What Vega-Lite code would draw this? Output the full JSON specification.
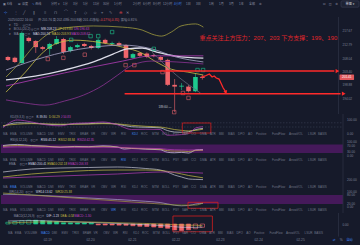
{
"$schema":"https://vega.github.io/schema/vega-lite/v6.json",
"background":"#161a2a",
"padding":0,
"spacing":0,
"bounds":"flush",
"config":{
 "view":{"stroke":null},
 "text":{"font":"Liberation Sans, DejaVu Sans, Noto Sans CJK SC, sans-serif","fontSize":3,"baseline":"middle","align":"left"}
},
"datasets":{
 "candles":[
  {"i":0,"o":208.6,"c":207.6,"h":209.0,"l":207.2},
  {"i":1,"o":208.3,"c":206.9,"h":208.7,"l":206.5},
  {"i":2,"o":206.5,"c":216.9,"h":217.4,"l":206.3},
  {"i":3,"o":215.2,"c":214.1,"h":215.6,"l":213.6},
  {"i":4,"o":214.1,"c":212.0,"h":214.4,"l":210.0},
  {"i":5,"o":212.0,"c":211.4,"h":212.4,"l":210.8},
  {"i":6,"o":211.4,"c":213.1,"h":213.5,"l":209.3},
  {"i":7,"o":213.1,"c":214.8,"h":215.8,"l":212.8},
  {"i":8,"o":214.8,"c":210.3,"h":215.2,"l":209.6},
  {"i":9,"o":210.7,"c":212.0,"h":212.4,"l":210.2},
  {"i":10,"o":212.0,"c":212.7,"h":213.2,"l":211.6},
  {"i":11,"o":213.1,"c":212.4,"h":213.5,"l":212.0},
  {"i":12,"o":212.4,"c":211.7,"h":212.8,"l":211.2},
  {"i":13,"o":211.7,"c":214.5,"h":215.0,"l":211.3},
  {"i":14,"o":214.5,"c":213.4,"h":214.9,"l":213.0},
  {"i":15,"o":213.1,"c":213.4,"h":213.9,"l":212.8},
  {"i":16,"o":213.4,"c":212.7,"h":213.9,"l":212.3},
  {"i":17,"o":212.7,"c":208.3,"h":213.0,"l":207.9},
  {"i":18,"o":208.3,"c":209.6,"h":210.0,"l":208.0},
  {"i":19,"o":210.0,"c":209.0,"h":210.3,"l":208.6},
  {"i":20,"o":209.8,"c":208.6,"h":210.2,"l":208.2},
  {"i":21,"o":209.3,"c":208.9,"h":209.7,"l":208.5},
  {"i":22,"o":208.6,"c":207.6,"h":208.9,"l":207.1},
  {"i":23,"o":207.6,"c":199.0,"h":208.0,"l":198.6},
  {"i":24,"o":199.0,"c":198.4,"h":201.0,"l":189.6},
  {"i":25,"o":198.4,"c":198.7,"h":199.6,"l":197.2},
  {"i":26,"o":198.4,"c":196.8,"h":198.9,"l":196.4},
  {"i":27,"o":196.8,"c":201.7,"h":203.0,"l":196.5},
  {"i":28,"o":201.76,"c":201.41,"h":202.43,"l":200.8}
 ],
 "ml":[
  {"s":"A","i":-0.28,"p":201.7},{"s":"A","i":1.82,"p":206.9},{"s":"A","i":3.92,"p":212.8},{"s":"A","i":6.02,"p":216.9},{"s":"A","i":8.12,"p":218.6},{"s":"A","i":12.32,"p":219.3},{"s":"A","i":16.52,"p":218.9},{"s":"A","i":19.32,"p":217.9},{"s":"A","i":20.72,"p":216.5},{"s":"A","i":22.12,"p":215.8},{"s":"A","i":23.52,"p":217.2},{"s":"A","i":24.92,"p":219.3},{"s":"A","i":27.02,"p":220.0},{"s":"A","i":28.14,"p":218.9},
  {"s":"B","i":-0.28,"p":196.5},{"s":"B","i":2.52,"p":203.4},{"s":"B","i":4.62,"p":209.2},{"s":"B","i":6.72,"p":213.0},{"s":"B","i":9.52,"p":214.4},{"s":"B","i":13.02,"p":213.7},{"s":"B","i":16.52,"p":212.0},{"s":"B","i":19.32,"p":209.9},{"s":"B","i":21.14,"p":207.2},{"s":"B","i":23.52,"p":204.4},{"s":"B","i":25.9,"p":203.4},{"s":"B","i":28.14,"p":202.4},
  {"s":"C","i":-0.28,"p":200.7},{"s":"C","i":3.92,"p":202.0},{"s":"C","i":8.12,"p":204.1},{"s":"C","i":12.32,"p":206.9},{"s":"C","i":15.12,"p":209.6},{"s":"C","i":17.22,"p":211.4},{"s":"C","i":19.32,"p":211.7},{"s":"C","i":21.42,"p":210.3},{"s":"C","i":24.22,"p":208.9},{"s":"C","i":28.14,"p":208.2},
  {"s":"D","i":-0.28,"p":204.1},{"s":"D","i":2.52,"p":206.5},{"s":"D","i":5.32,"p":208.6},{"s":"D","i":8.12,"p":210.3},{"s":"D","i":12.32,"p":212.0},{"s":"D","i":16.52,"p":212.7},{"s":"D","i":20.72,"p":211.4},{"s":"D","i":24.22,"p":208.6},{"s":"D","i":28.14,"p":206.9},
  {"s":"E","i":-0.28,"p":198.6},{"s":"E","i":8.12,"p":203.1},{"s":"E","i":16.52,"p":207.2},{"s":"E","i":20.72,"p":209.0},{"s":"E","i":28.14,"p":209.0},
  {"s":"F","i":-0.28,"p":193.8},{"s":"F","i":2.52,"p":192.7},{"s":"F","i":5.32,"p":192.0},{"s":"F","i":8.12,"p":193.4},{"s":"F","i":10.92,"p":195.5},{"s":"F","i":13.72,"p":198.9},{"s":"F","i":15.82,"p":202.4},{"s":"F","i":17.92,"p":205.8},{"s":"F","i":20.72,"p":207.2},{"s":"F","i":24.22,"p":206.9},{"s":"F","i":28.14,"p":206.2},
  {"s":"G","i":20.72,"p":210.3},{"s":"G","i":24.22,"p":202.4},{"s":"G","i":27.72,"p":196.2}
 ],
 "mk":[
  {"i":9.1,"p":214.5,"u":1},{"i":11.9,"p":215.8,"u":1},{"i":13.0,"p":215.8,"u":1},{"i":15.0,"p":217.2,"u":1},{"i":21.0,"p":211.4,"u":1},{"i":27.3,"p":204.1,"u":1},{"i":28.1,"p":204.1,"u":1},
  {"i":5.74,"p":207.9,"u":0},{"i":7.98,"p":208.3,"u":0},{"i":11.06,"p":209.4,"u":0},{"i":16.94,"p":205.8,"u":0},{"i":18.2,"p":205.8,"u":0},{"i":22.26,"p":203.4,"u":0},{"i":25.2,"p":196.2,"u":0},{"i":26.0,"p":194.5,"u":0},{"i":23.94,"p":189.6,"u":0}
 ],
 "mh":[
  {"row":1,"i":0,"t":"2025/02/22 16:00","k":"lab"},{"row":1,"i":4.34,"t":"开:201.76","k":"lab"},{"row":1,"i":6.44,"t":"高:202.43","k":"lab"},{"row":1,"i":8.4,"t":"低:200.80","k":"lab"},{"row":1,"i":10.22,"t":"收:201.41","k":"lab"},{"row":1,"i":12.18,"t":"涨幅:","k":"lab"},{"row":1,"i":13.2,"t":"-0.17%(-0.35)","k":"down"},{"row":1,"i":16.24,"t":"振幅:0.81%","k":"lab"},
  {"row":2,"i":0.14,"t":"▾","k":"lab"},{"row":2,"i":0.84,"t":"TD","k":"lab"},{"row":2,"i":2.1,"t":"◎▢✕","k":"lab"},
  {"row":3,"i":0.14,"t":"▾","k":"lab"},{"row":3,"i":0.84,"t":"BOLL(20,2)","k":"lab"},{"row":3,"i":3.3,"t":"◎▢✕","k":"lab"},{"row":3,"i":4.76,"t":"MB:208.23","k":"s1"},{"row":3,"i":7.14,"t":"UP:219.83","k":"s2"},{"row":3,"i":9.52,"t":"DN:196.63","k":"s3"},
  {"row":4,"i":0.14,"t":"▾","k":"lab"},{"row":4,"i":0.84,"t":"MA","k":"lab"},{"row":4,"i":2.0,"t":"◎▢✕","k":"lab"},{"row":4,"i":3.6,"t":"MA5:200.74","k":"s1"},{"row":4,"i":6.3,"t":"MA10:203.93","k":"s2"},{"row":4,"i":9.1,"t":"MA30:208.62","k":"s3"}
 ],
 "hdr":[
  {"pn":2,"i":1.0,"t":"KDJ(9,3,3)","k":"lab"},{"pn":2,"i":3.2,"t":"◎▢✕","k":"lab"},{"pn":2,"i":4.7,"t":"K:39.80","k":"s1"},{"pn":2,"i":6.45,"t":"D:34.29","k":"s2"},{"pn":2,"i":8.1,"t":"J:50.83","k":"s3"},
  {"pn":3,"i":1.0,"t":"RSI(6,12,24)","k":"lab"},{"pn":3,"i":3.8,"t":"◎▢✕","k":"lab"},{"pn":3,"i":5.3,"t":"RSI6:45.12","k":"s1"},{"pn":3,"i":7.75,"t":"RSI12:38.84","k":"s2"},{"pn":3,"i":10.4,"t":"RSI24:42.35","k":"s3"},
  {"pn":4,"i":0.84,"t":"EMA","k":"lab"},{"pn":4,"i":2.3,"t":"◎▢✕","k":"lab"},{"pn":4,"i":3.55,"t":"EMA5:200.41","k":"s1"},{"pn":4,"i":6.2,"t":"EMA10:202.18","k":"s2"},{"pn":4,"i":9.1,"t":"EMA20:206.93","k":"s3"},
  {"pn":5,"i":0.84,"t":"WR(14,20)","k":"lab"},{"pn":5,"i":3.1,"t":"◎▢✕","k":"lab"},{"pn":5,"i":4.6,"t":"WR14:13.62","k":"s1"},{"pn":5,"i":7.3,"t":"WR20:25.38","k":"s2"},
  {"pn":6,"i":0.84,"t":"MACD(12,26,9)","k":"lab"},{"pn":6,"i":4.1,"t":"◎▢✕","k":"lab"},{"pn":6,"i":5.55,"t":"DIF:-1.23","k":"s1"},{"pn":6,"i":7.55,"t":"DEA:-0.58","k":"s2"},{"pn":6,"i":9.6,"t":"MACD:-1.30","k":"s3"}
 ],
 "tools":[
  {"t":"MA","i":0},{"t":"EMA","i":0.98},{"t":"VOLUME","i":2.38},{"t":"MACD","i":4.76},{"t":"DMI","i":6.3},{"t":"EMV","i":7.7},{"t":"TRIX","i":9.24},{"t":"BRAR","i":10.78},{"t":"VR","i":12.32},{"t":"OBV","i":13.72},{"t":"WR","i":15.12},{"t":"RSI","i":16.52},{"t":"KDJ","i":18.06},{"t":"ROC","i":19.32},{"t":"MTM","i":20.86},{"t":"BOLL","i":22.26},{"t":"PSY","i":23.8},{"t":"SAR","i":25.06},{"t":"CCI","i":26.32},{"t":"DMA","i":27.58},{"t":"ATR","i":28.98},{"t":"BBI","i":30.24},{"t":"BIAS","i":31.5},{"t":"DPO","i":32.9},{"t":"AO","i":34.3},{"t":"Positive","i":35.42},{"t":"FundFlow","i":37.66},{"t":"ArrowVOL","i":40.04},{"t":"LSUR","i":42.7},{"t":"BASIS","i":44.1}
 ],
 "top":[
  {"r":1,"i":0.0,"t":"▣","k":"lab"},{"r":1,"i":0.56,"t":"K线","k":"lab"},{"r":1,"i":2.1,"t":"⊞","k":"lab"},{"r":1,"i":2.66,"t":"深度","k":"lab"},{"r":1,"i":4.06,"t":"✎","k":"sel"},{"r":1,"i":4.5,"t":"画线","k":"lab"},
  {"r":1,"i":6.72,"t":"分时","k":"lab"},{"r":1,"i":7.7,"t":"▾","k":"lab"},{"r":1,"i":8.4,"t":"1分","k":"lab"},{"r":1,"i":9.8,"t":"3分","k":"lab"},{"r":1,"i":11.2,"t":"5分","k":"lab"},{"r":1,"i":12.6,"t":"15分","k":"lab"},{"r":1,"i":14.0,"t":"30分","k":"lab"},{"r":1,"i":15.54,"t":"1小时","k":"lab"},{"r":1,"i":18.2,"t":"2小时","k":"lab"},{"r":1,"i":19.6,"t":"6小时","k":"lab"},{"r":1,"i":21.0,"t":"8小时","k":"lab"},{"r":1,"i":22.4,"t":"12小时","k":"lab"},{"r":1,"i":23.94,"t":"4小时","k":"sel"},{"r":1,"i":25.62,"t":"1日","k":"lab"},{"r":1,"i":27.02,"t":"3日","k":"lab"},{"r":1,"i":28.84,"t":"1周","k":"lab"},{"r":1,"i":30.24,"t":"1月","k":"lab"},{"r":1,"i":31.64,"t":"3月","k":"lab"},{"r":1,"i":33.04,"t":"1年","k":"lab"},{"r":1,"i":34.44,"t":"全部","k":"lab"},{"r":1,"i":35.84,"t":"⚙","k":"lab"},
  {"r":1,"i":44.8,"t":"⊡","k":"lab"},{"r":1,"i":45.6,"t":"◫","k":"lab"},{"r":1,"i":46.5,"t":"⚙","k":"lab"},
  {"r":2,"i":0.14,"t":"⊹","k":"sel"},{"r":2,"i":1.54,"t":"⋮","k":"lab"},{"r":2,"i":2.8,"t":"╱","k":"lab"},{"r":2,"i":4.2,"t":"∥","k":"lab"},{"r":2,"i":5.74,"t":"≡","k":"lab"},{"r":2,"i":7.14,"t":"⊓","k":"lab"},{"r":2,"i":8.54,"t":"⌒","k":"lab"},{"r":2,"i":9.94,"t":"T","k":"lab"},{"r":2,"i":11.34,"t":"◇","k":"lab"},{"r":2,"i":12.6,"t":"☺","k":"lab"},{"r":2,"i":13.72,"t":"⌖","k":"lab"},{"r":2,"i":14.84,"t":"✎","k":"lab"},{"r":2,"i":16.24,"t":"⊖","k":"down"},{"r":2,"i":17.22,"t":"✕","k":"lab"}
 ],
 "sub":[
  {"s":"k2","i":0,"v":55},{"s":"k2","i":2,"v":80},{"s":"k2","i":4,"v":78},{"s":"k2","i":6,"v":70},{"s":"k2","i":8,"v":66},{"s":"k2","i":10,"v":72},{"s":"k2","i":12,"v":74},{"s":"k2","i":14,"v":78},{"s":"k2","i":16,"v":70},{"s":"k2","i":18,"v":52},{"s":"k2","i":20,"v":48},{"s":"k2","i":22,"v":44},{"s":"k2","i":23,"v":25},{"s":"k2","i":24,"v":14},{"s":"k2","i":25,"v":12},{"s":"k2","i":26,"v":16},{"s":"k2","i":27,"v":32},{"s":"k2","i":28,"v":40},
  {"s":"d2","i":0,"v":60},{"s":"d2","i":2,"v":70},{"s":"d2","i":4,"v":74},{"s":"d2","i":6,"v":72},{"s":"d2","i":8,"v":70},{"s":"d2","i":10,"v":70},{"s":"d2","i":12,"v":71},{"s":"d2","i":14,"v":74},{"s":"d2","i":16,"v":72},{"s":"d2","i":18,"v":62},{"s":"d2","i":20,"v":55},{"s":"d2","i":22,"v":50},{"s":"d2","i":23,"v":42},{"s":"d2","i":24,"v":32},{"s":"d2","i":25,"v":26},{"s":"d2","i":26,"v":22},{"s":"d2","i":27,"v":26},{"s":"d2","i":28,"v":34},
  {"s":"j2","i":0,"v":45},{"s":"j2","i":2,"v":100},{"s":"j2","i":4,"v":86},{"s":"j2","i":6,"v":66},{"s":"j2","i":8,"v":58},{"s":"j2","i":10,"v":76},{"s":"j2","i":12,"v":80},{"s":"j2","i":14,"v":86},{"s":"j2","i":16,"v":66},{"s":"j2","i":18,"v":32},{"s":"j2","i":20,"v":34},{"s":"j2","i":22,"v":32},{"s":"j2","i":23,"v":-9},{"s":"j2","i":24,"v":-8},{"s":"j2","i":25,"v":-4},{"s":"j2","i":26,"v":4},{"s":"j2","i":27,"v":44},{"s":"j2","i":28,"v":52},
  {"s":"r6","i":0,"v":72},{"s":"r6","i":2,"v":80},{"s":"r6","i":4,"v":72},{"s":"r6","i":6,"v":68},{"s":"r6","i":8,"v":60},{"s":"r6","i":10,"v":66},{"s":"r6","i":12,"v":64},{"s":"r6","i":14,"v":70},{"s":"r6","i":16,"v":62},{"s":"r6","i":17,"v":48},{"s":"r6","i":18,"v":52},{"s":"r6","i":20,"v":47},{"s":"r6","i":22,"v":43},{"s":"r6","i":23,"v":26},{"s":"r6","i":24,"v":22},{"s":"r6","i":25,"v":25},{"s":"r6","i":26,"v":20},{"s":"r6","i":27,"v":42},{"s":"r6","i":28,"v":45},
  {"s":"r12","i":0,"v":66},{"s":"r12","i":2,"v":72},{"s":"r12","i":4,"v":69},{"s":"r12","i":6,"v":66},{"s":"r12","i":8,"v":62},{"s":"r12","i":10,"v":63},{"s":"r12","i":12,"v":62},{"s":"r12","i":14,"v":65},{"s":"r12","i":16,"v":61},{"s":"r12","i":18,"v":53},{"s":"r12","i":20,"v":50},{"s":"r12","i":22,"v":47},{"s":"r12","i":23,"v":37},{"s":"r12","i":24,"v":34},{"s":"r12","i":25,"v":34},{"s":"r12","i":26,"v":31},{"s":"r12","i":27,"v":38},{"s":"r12","i":28,"v":39},
  {"s":"r24","i":0,"v":60},{"s":"r24","i":2,"v":63},{"s":"r24","i":4,"v":62},{"s":"r24","i":6,"v":61},{"s":"r24","i":8,"v":60},{"s":"r24","i":10,"v":60},{"s":"r24","i":12,"v":60},{"s":"r24","i":14,"v":61},{"s":"r24","i":16,"v":59},{"s":"r24","i":18,"v":55},{"s":"r24","i":20,"v":53},{"s":"r24","i":22,"v":51},{"s":"r24","i":23,"v":46},{"s":"r24","i":24,"v":43},{"s":"r24","i":25,"v":42},{"s":"r24","i":26,"v":41},{"s":"r24","i":27,"v":42},{"s":"r24","i":28,"v":42},
  {"s":"e5","i":0,"v":208},{"s":"e5","i":4,"v":211},{"s":"e5","i":8,"v":212},{"s":"e5","i":12,"v":212.5},{"s":"e5","i":16,"v":213},{"s":"e5","i":20,"v":211.5},{"s":"e5","i":22,"v":210},{"s":"e5","i":23,"v":208},{"s":"e5","i":24,"v":205},{"s":"e5","i":25,"v":203},{"s":"e5","i":26,"v":201},{"s":"e5","i":27,"v":200.6},{"s":"e5","i":28,"v":200.4},
  {"s":"e10","i":0,"v":203},{"s":"e10","i":4,"v":206},{"s":"e10","i":8,"v":208},{"s":"e10","i":12,"v":209.5},{"s":"e10","i":16,"v":210},{"s":"e10","i":20,"v":210},{"s":"e10","i":22,"v":209.5},{"s":"e10","i":24,"v":207.5},{"s":"e10","i":26,"v":204.5},{"s":"e10","i":28,"v":202.2},
  {"s":"e20","i":0,"v":202},{"s":"e20","i":4,"v":203},{"s":"e20","i":8,"v":204},{"s":"e20","i":12,"v":205},{"s":"e20","i":16,"v":206},{"s":"e20","i":20,"v":207.5},{"s":"e20","i":22,"v":208},{"s":"e20","i":24,"v":208},{"s":"e20","i":26,"v":207.5},{"s":"e20","i":28,"v":206.9},
  {"s":"w1","i":0,"v":85},{"s":"w1","i":4,"v":80},{"s":"w1","i":8,"v":70},{"s":"w1","i":12,"v":60},{"s":"w1","i":16,"v":50},{"s":"w1","i":20,"v":38},{"s":"w1","i":22,"v":30},{"s":"w1","i":24,"v":12},{"s":"w1","i":25,"v":8},{"s":"w1","i":26,"v":10},{"s":"w1","i":27,"v":20},{"s":"w1","i":28,"v":25},
  {"s":"w2","i":0,"v":93},{"s":"w2","i":6,"v":73},{"s":"w2","i":14,"v":47},{"s":"w2","i":20,"v":27},{"s":"w2","i":25,"v":13},{"s":"w2","i":27,"v":13},{"s":"w2","i":28,"v":27},
  {"s":"dif","i":0,"v":1.2},{"s":"dif","i":4,"v":1.4},{"s":"dif","i":8,"v":1.0},{"s":"dif","i":12,"v":0.6},{"s":"dif","i":16,"v":0.2},{"s":"dif","i":20,"v":-0.3},{"s":"dif","i":23,"v":-0.8},{"s":"dif","i":25,"v":-1.3},{"s":"dif","i":27,"v":-1.35},{"s":"dif","i":28,"v":-1.23},
  {"s":"dea","i":0,"v":0.4},{"s":"dea","i":4,"v":0.8},{"s":"dea","i":8,"v":0.9},{"s":"dea","i":12,"v":0.8},{"s":"dea","i":16,"v":0.5},{"s":"dea","i":20,"v":0.2},{"s":"dea","i":23,"v":-0.1},{"s":"dea","i":25,"v":-0.4},{"s":"dea","i":27,"v":-0.52},{"s":"dea","i":28,"v":-0.58}
 ],
 "hist":[
  {"i":0,"v":0.7,"h":1},{"i":1,"v":1.0,"h":1},{"i":2,"v":1.3,"h":1},{"i":3,"v":1.5,"h":1},{"i":4,"v":1.5,"h":0},{"i":5,"v":1.3,"h":0},{"i":6,"v":1.1,"h":0},{"i":7,"v":0.9,"h":0},{"i":8,"v":0.5,"h":0},{"i":9,"v":0.45,"h":0},{"i":10,"v":0.4,"h":0},{"i":11,"v":0.4,"h":0},{"i":12,"v":0.35,"h":0},{"i":13,"v":-0.35,"h":0},{"i":14,"v":-0.4,"h":0},{"i":15,"v":-0.4,"h":0},{"i":16,"v":-0.45,"h":0},{"i":17,"v":-0.5,"h":0},{"i":18,"v":-0.7,"h":0},{"i":19,"v":-0.9,"h":0},{"i":20,"v":-1.0,"h":0},{"i":21,"v":-1.2,"h":0},{"i":22,"v":-1.4,"h":0},{"i":23,"v":-1.7,"h":0},{"i":24,"v":-2.4,"h":0},{"i":25,"v":-2.6,"h":0},{"i":26,"v":-2.3,"h":0},{"i":27,"v":-1.9,"h":1},{"i":28,"v":-1.3,"h":1}
 ],
 "dates":[
  {"i":5.74,"t":"02-19"},{"i":11.9,"t":"02-20"},{"i":17.92,"t":"02-21"},{"i":24.2,"t":"02-22"},{"i":30.6,"t":"02-23"},{"i":36.1,"t":"02-24"},{"i":42.14,"t":"02-25"}
 ]
},
"vconcat":[
 {"width":360,"height":17,
  "layer":[
   {"data":{"values":[{"r":1,"i":47.32,"i2":49.84}]},
    "mark":{"type":"rect","fill":"#1d2233","stroke":"#3a4058","strokeWidth":0.6,"cornerRadius":1},
    "encoding":{"x":{"field":"i","type":"quantitative","scale":{"domain":[-0.28,50.12],"nice":false,"zero":false},"axis":null},"x2":{"field":"i2"},
     "y":{"field":"r","type":"ordinal","scale":{"domain":[1,2],"paddingInner":0.3,"paddingOuter":0.1},"axis":null}}},
   {"data":{"values":[{"r":1,"i":48.58,"t":"单图 ▾"}]},
    "mark":{"type":"text","fontSize":3.2,"align":"center","fill":"#c9ccd8"},
    "encoding":{"x":{"field":"i","type":"quantitative","scale":{"domain":[-0.28,50.12],"nice":false,"zero":false},"axis":null},
     "y":{"field":"r","type":"ordinal","scale":{"domain":[1,2],"paddingInner":0.3,"paddingOuter":0.1},"axis":null},"text":{"field":"t"}}},
   {"data":{"name":"top"},"transform":[{"filter":"datum.r==1"}],
    "mark":{"type":"text","fontSize":3},
    "encoding":{"x":{"field":"i","type":"quantitative","scale":{"domain":[-0.28,50.12],"nice":false,"zero":false},"axis":null},
     "y":{"field":"r","type":"ordinal","scale":{"domain":[1,2],"paddingInner":0.3,"paddingOuter":0.1},"axis":null},"text":{"field":"t"},
     "fill":{"field":"k","type":"nominal","scale":{"domain":["lab","s1","s2","s3","down","sel","up"],"range":["#8a8fa3","#d4d6e2","#c9bf45","#c040c0","#e5484d","#3d84f0","#1dc98e"]},"legend":null}}},
   {"data":{"name":"top"},"transform":[{"filter":"datum.r==2"}],
    "mark":{"type":"text","fontSize":4},
    "encoding":{"x":{"field":"i","type":"quantitative","scale":{"domain":[-0.28,50.12],"nice":false,"zero":false},"axis":null},
     "y":{"field":"r","type":"ordinal","scale":{"domain":[1,2],"paddingInner":0.3,"paddingOuter":0.1},"axis":null},"text":{"field":"t"},
     "fill":{"field":"k","type":"nominal","scale":{"domain":["lab","s1","s2","s3","down","sel","up"],"range":["#8a8fa3","#d4d6e2","#c9bf45","#c040c0","#e5484d","#3d84f0","#1dc98e"]},"legend":null}}}
  ]},
 {"width":360,"height":97,
  "layer":[
   {"data":{"values":[{}]},"mark":{"type":"rule","color":"#2b3043","strokeWidth":0.8},
    "encoding":{"x":{"datum":47.6,"type":"quantitative","scale":{"domain":[-0.28,50.12],"nice":false,"zero":false},"axis":null},
     "y":{"datum":222.39,"type":"quantitative","scale":{"domain":[188.95,222.39],"nice":false,"zero":false},"axis":null},"y2":{"datum":188.95}}},
   {"data":{"values":[{"v":194.02},{"v":198.88},{"v":203.4},{"v":208.04},{"v":212.79},{"v":217.67}]},
    "mark":{"type":"text","fontSize":3.2,"fill":"#7d8296"},
    "encoding":{"x":{"datum":48.16,"type":"quantitative","scale":{"domain":[-0.28,50.12],"nice":false,"zero":false},"axis":null},
     "y":{"field":"v","type":"quantitative","scale":{"domain":[188.95,222.39],"nice":false,"zero":false},"axis":null},
     "text":{"field":"v","type":"quantitative","format":".2f"}}},
   {"data":{"name":"candles"},"mark":{"type":"rule","strokeWidth":0.6},
    "encoding":{"x":{"field":"i","type":"quantitative","scale":{"domain":[-0.28,50.12],"nice":false,"zero":false},"axis":null},
     "y":{"field":"l","type":"quantitative","scale":{"domain":[188.95,222.39],"nice":false,"zero":false},"axis":null},
     "y2":{"field":"h"},
     "color":{"condition":{"test":"datum.c>=datum.o","value":"#1dc98e"},"value":"#f0656b"}}},
   {"data":{"name":"candles"},"mark":{"type":"bar","size":4.6},
    "encoding":{"x":{"field":"i","type":"quantitative","scale":{"domain":[-0.28,50.12],"nice":false,"zero":false},"axis":null},
     "y":{"field":"o","type":"quantitative","scale":{"domain":[188.95,222.39],"nice":false,"zero":false},"axis":null},
     "y2":{"field":"c"},
     "color":{"condition":{"test":"datum.c>=datum.o","value":"#1dc98e"},"value":"#f0656b"}}},
   {"data":{"name":"ml"},"mark":{"type":"line","interpolate":"monotone"},
    "encoding":{"x":{"field":"i","type":"quantitative","scale":{"domain":[-0.28,50.12],"nice":false,"zero":false},"axis":null},
     "y":{"field":"p","type":"quantitative","scale":{"domain":[188.95,222.39],"nice":false,"zero":false},"axis":null},
     "stroke":{"field":"s","type":"nominal","scale":{"domain":["A","B","C","D","E","F","G","k2","d2","j2","r6","r12","r24","e5","e10","e20","w1","w2","dif","dea"],"range":["#9f9a3e","#c9bf45","#dcdce8","#a9a6c8","#b43cb8","#8d3494","#5f6477","#d4d6e4","#c9bf45","#b43cb8","#d4d6e4","#c9bf45","#b43cb8","#c5c7d6","#c9bf45","#b43cb8","#a9a6c8","#9f9a3e","#d4d6e4","#c9bf45"]},"legend":null},
     "strokeWidth":{"condition":{"test":"datum.s==='C'","value":1.3},"value":0.8}}},
   {"data":{"name":"mk"},"mark":{"type":"point","shape":"square","size":12,"filled":false,"strokeWidth":0.6,"opacity":1},
    "encoding":{"x":{"field":"i","type":"quantitative","scale":{"domain":[-0.28,50.12],"nice":false,"zero":false},"axis":null},
     "y":{"field":"p","type":"quantitative","scale":{"domain":[188.95,222.39],"nice":false,"zero":false},"axis":null},
     "color":{"condition":{"test":"datum.u==1","value":"#1dc98e"},"value":"#e0606a"}}},
   {"data":{"values":[{"i":16.8,"i2":47.0,"p":203.77},{"i":16.8,"i2":47.9,"p":195.95}]},
    "mark":{"type":"rule","strokeWidth":1.6,"color":"#ff2a2a"},
    "encoding":{"x":{"field":"i","type":"quantitative","scale":{"domain":[-0.28,50.12],"nice":false,"zero":false},"axis":null},"x2":{"field":"i2"},
     "y":{"field":"p","type":"quantitative","scale":{"domain":[188.95,222.39],"nice":false,"zero":false},"axis":null}}},
   {"data":{"values":[{"i":47.45,"p":203.77},{"i":48.35,"p":195.95}]},
    "mark":{"type":"point","shape":"triangle-right","size":18,"filled":true,"color":"#ff2a2a","opacity":1},
    "encoding":{"x":{"field":"i","type":"quantitative","scale":{"domain":[-0.28,50.12],"nice":false,"zero":false},"axis":null},
     "y":{"field":"p","type":"quantitative","scale":{"domain":[188.95,222.39],"nice":false,"zero":false},"axis":null}}},
   {"data":{"values":[{"i":27.86,"p":201.7},{"i":28.4,"p":202.05},{"i":29.0,"p":202.74},{"i":29.4,"p":201.7},{"i":29.7,"p":202.05},{"i":30.0,"p":201.36},{"i":30.4,"p":201.0},{"i":31.0,"p":197.9},{"i":31.3,"p":196.8}]},
    "mark":{"type":"line","strokeWidth":1.3,"color":"#ff2a2a"},
    "encoding":{"x":{"field":"i","type":"quantitative","scale":{"domain":[-0.28,50.12],"nice":false,"zero":false},"axis":null},
     "y":{"field":"p","type":"quantitative","scale":{"domain":[188.95,222.39],"nice":false,"zero":false},"axis":null}}},
   {"data":{"values":[{"i":31.38,"p":196.4}]},
    "mark":{"type":"point","shape":"triangle-down","size":16,"filled":true,"color":"#ff2a2a","opacity":1,"angle":-20},
    "encoding":{"x":{"field":"i","type":"quantitative","scale":{"domain":[-0.28,50.12],"nice":false,"zero":false},"axis":null},
     "y":{"field":"p","type":"quantitative","scale":{"domain":[188.95,222.39],"nice":false,"zero":false},"axis":null}}},
   {"data":{"values":[{"i":27.6,"p":215.15,"t":"重点关注上方压力：207、203  下方支撑：199、190"}]},
    "mark":{"type":"text","fontSize":6,"fill":"#e0262a"},
    "encoding":{"x":{"field":"i","type":"quantitative","scale":{"domain":[-0.28,50.12],"nice":false,"zero":false},"axis":null},
     "y":{"field":"p","type":"quantitative","scale":{"domain":[188.95,222.39],"nice":false,"zero":false},"axis":null},"text":{"field":"t"}}},
   {"data":{"name":"mh"},"transform":[{"filter":"datum.row==1"}],"mark":{"type":"text","fontSize":3.2},
    "encoding":{"x":{"field":"i","type":"quantitative","scale":{"domain":[-0.28,50.12],"nice":false,"zero":false},"axis":null},
     "y":{"datum":221.36,"type":"quantitative","scale":{"domain":[188.95,222.39],"nice":false,"zero":false},"axis":null},"text":{"field":"t"},
     "fill":{"field":"k","type":"nominal","scale":{"domain":["lab","s1","s2","s3","down","sel","up"],"range":["#8a8fa3","#d4d6e2","#c9bf45","#c040c0","#e5484d","#3d84f0","#1dc98e"]},"legend":null}}},
   {"data":{"name":"mh"},"transform":[{"filter":"datum.row==2"}],"mark":{"type":"text","fontSize":3.2},
    "encoding":{"x":{"field":"i","type":"quantitative","scale":{"domain":[-0.28,50.12],"nice":false,"zero":false},"axis":null},
     "y":{"datum":219.8,"type":"quantitative","scale":{"domain":[188.95,222.39],"nice":false,"zero":false},"axis":null},"text":{"field":"t"},
     "fill":{"field":"k","type":"nominal","scale":{"domain":["lab","s1","s2","s3","down","sel","up"],"range":["#8a8fa3","#d4d6e2","#c9bf45","#c040c0","#e5484d","#3d84f0","#1dc98e"]},"legend":null}}},
   {"data":{"name":"mh"},"transform":[{"filter":"datum.row==3"}],"mark":{"type":"text","fontSize":3.2},
    "encoding":{"x":{"field":"i","type":"quantitative","scale":{"domain":[-0.28,50.12],"nice":false,"zero":false},"axis":null},
     "y":{"datum":218.2,"type":"quantitative","scale":{"domain":[188.95,222.39],"nice":false,"zero":false},"axis":null},"text":{"field":"t"},
     "fill":{"field":"k","type":"nominal","scale":{"domain":["lab","s1","s2","s3","down","sel","up"],"range":["#8a8fa3","#d4d6e2","#c9bf45","#c040c0","#e5484d","#3d84f0","#1dc98e"]},"legend":null}}},
   {"data":{"name":"mh"},"transform":[{"filter":"datum.row==4"}],"mark":{"type":"text","fontSize":3.2},
    "encoding":{"x":{"field":"i","type":"quantitative","scale":{"domain":[-0.28,50.12],"nice":false,"zero":false},"axis":null},
     "y":{"datum":216.43,"type":"quantitative","scale":{"domain":[188.95,222.39],"nice":false,"zero":false},"axis":null},"text":{"field":"t"},
     "fill":{"field":"k","type":"nominal","scale":{"domain":["lab","s1","s2","s3","down","sel","up"],"range":["#8a8fa3","#d4d6e2","#c9bf45","#c040c0","#e5484d","#3d84f0","#1dc98e"]},"legend":null}}},
   {"data":{"values":[{"i":23.55,"p":191.4,"t":"189.60 —"}]},
    "mark":{"type":"text","fontSize":3,"align":"right","fill":"#c3c6d4"},
    "encoding":{"x":{"field":"i","type":"quantitative","scale":{"domain":[-0.28,50.12],"nice":false,"zero":false},"axis":null},
     "y":{"field":"p","type":"quantitative","scale":{"domain":[188.95,222.39],"nice":false,"zero":false},"axis":null},"text":{"field":"t"}}},
   {"data":{"values":[{"i":47.74,"i2":49.84,"p":200.67,"p2":202.57}]},
    "mark":{"type":"rect","fill":"#e0575b","cornerRadius":0.5},
    "encoding":{"x":{"field":"i","type":"quantitative","scale":{"domain":[-0.28,50.12],"nice":false,"zero":false},"axis":null},"x2":{"field":"i2"},
     "y":{"field":"p","type":"quantitative","scale":{"domain":[188.95,222.39],"nice":false,"zero":false},"axis":null},"y2":{"field":"p2"}}},
   {"data":{"values":[{"i":48.79,"p":201.62,"t":"201.41"}]},
    "mark":{"type":"text","fontSize":3.2,"align":"center","fill":"#ffffff"},
    "encoding":{"x":{"field":"i","type":"quantitative","scale":{"domain":[-0.28,50.12],"nice":false,"zero":false},"axis":null},
     "y":{"field":"p","type":"quantitative","scale":{"domain":[188.95,222.39],"nice":false,"zero":false},"axis":null},"text":{"field":"t"}}}
  ]},
 {"width":360,"height":22,
  "layer":[
   {"data":{"values":[{}]},"mark":{"type":"rule","color":"#2b3043","strokeWidth":0.8},
    "encoding":{"x":{"datum":47.6,"type":"quantitative","scale":{"domain":[-0.28,50.12],"nice":false,"zero":false},"axis":null},
     "y":{"datum":142.9,"type":"quantitative","scale":{"domain":[-14.3,142.9],"nice":false,"zero":false},"axis":null},"y2":{"datum":-14.3}}},
   {"data":{"values":[{"v":0},{"v":100}]},
    "mark":{"type":"text","fontSize":3.2,"fill":"#7d8296"},
    "encoding":{"x":{"datum":48.16,"type":"quantitative","scale":{"domain":[-0.28,50.12],"nice":false,"zero":false},"axis":null},
     "y":{"field":"v","type":"quantitative","scale":{"domain":[-14.3,142.9],"nice":false,"zero":false},"axis":null},
     "text":{"field":"v","type":"quantitative","format":".2f"}}},
   {"data":{"values":[{"v":80},{"v":50}]},
    "mark":{"type":"rule","strokeDash":[1.5,1.5],"color":"#3a4055","strokeWidth":0.6},
    "encoding":{"x":{"datum":-0.28,"type":"quantitative","scale":{"domain":[-0.28,50.12],"nice":false,"zero":false},"axis":null},"x2":{"datum":47.6},
     "y":{"field":"v","type":"quantitative","scale":{"domain":[-14.3,142.9],"nice":false,"zero":false},"axis":null}}},
   {"data":{"name":"sub"},"transform":[{"filter":"indexof(['k2','d2','j2'], datum.s) >= 0"}],
    "mark":{"type":"line","interpolate":"monotone","strokeWidth":0.7},
    "encoding":{"x":{"field":"i","type":"quantitative","scale":{"domain":[-0.28,50.12],"nice":false,"zero":false},"axis":null},
     "y":{"field":"v","type":"quantitative","scale":{"domain":[-14.3,142.9],"nice":false,"zero":false},"axis":null},
     "stroke":{"field":"s","type":"nominal","scale":{"domain":["A","B","C","D","E","F","G","k2","d2","j2","r6","r12","r24","e5","e10","e20","w1","w2","dif","dea"],"range":["#9f9a3e","#c9bf45","#dcdce8","#a9a6c8","#b43cb8","#8d3494","#5f6477","#d4d6e4","#c9bf45","#b43cb8","#d4d6e4","#c9bf45","#b43cb8","#c5c7d6","#c9bf45","#b43cb8","#a9a6c8","#9f9a3e","#d4d6e4","#c9bf45"]},"legend":null}}},
   {"data":{"values":[{"i":25.1,"i2":29.1,"v":78.6,"v2":7.1}]},
    "mark":{"type":"rect","fill":null,"stroke":"#d42020","strokeWidth":0.8},
    "encoding":{"x":{"field":"i","type":"quantitative","scale":{"domain":[-0.28,50.12],"nice":false,"zero":false},"axis":null},"x2":{"field":"i2"},
     "y":{"field":"v","type":"quantitative","scale":{"domain":[-14.3,142.9],"nice":false,"zero":false},"axis":null},"y2":{"field":"v2"}}},
   {"data":{"name":"hdr"},"transform":[{"filter":"datum.pn==2"}],"mark":{"type":"text"},
    "encoding":{"x":{"field":"i","type":"quantitative","scale":{"domain":[-0.28,50.12],"nice":false,"zero":false},"axis":null},
     "y":{"datum":121.4,"type":"quantitative","scale":{"domain":[-14.3,142.9],"nice":false,"zero":false},"axis":null},"text":{"field":"t"},
     "fill":{"field":"k","type":"nominal","scale":{"domain":["lab","s1","s2","s3","down","sel","up"],"range":["#8a8fa3","#d4d6e2","#c9bf45","#c040c0","#e5484d","#3d84f0","#1dc98e"]},"legend":null}}},
   {"data":{"name":"tools"},"mark":{"type":"text"},
    "encoding":{"x":{"field":"i","type":"quantitative","scale":{"domain":[-0.28,50.12],"nice":false,"zero":false},"axis":null},
     "y":{"datum":3.6,"type":"quantitative","scale":{"domain":[-14.3,142.9],"nice":false,"zero":false},"axis":null},"text":{"field":"t"},
     "fill":{"condition":{"test":"datum.t==='KDJ'","value":"#3d84f0"},"value":"#6d7285"}}}
  ]},
 {"width":360,"height":26,
  "layer":[
   {"data":{"values":[{"a":20,"b":80}]},
    "mark":{"type":"rect","fill":"#45195a"},
    "encoding":{"x":{"datum":-0.28,"type":"quantitative","scale":{"domain":[-0.28,50.12],"nice":false,"zero":false},"axis":null},"x2":{"datum":47.6},
     "y":{"field":"a","type":"quantitative","scale":{"domain":[-41.4,137.9],"nice":false,"zero":false},"axis":null},"y2":{"field":"b"}}},
   {"data":{"values":[{}]},"mark":{"type":"rule","color":"#2b3043","strokeWidth":0.8},
    "encoding":{"x":{"datum":47.6,"type":"quantitative","scale":{"domain":[-0.28,50.12],"nice":false,"zero":false},"axis":null},
     "y":{"datum":137.9,"type":"quantitative","scale":{"domain":[-41.4,137.9],"nice":false,"zero":false},"axis":null},"y2":{"datum":-41.4}}},
   {"data":{"values":[{"v":0},{"v":30},{"v":70},{"v":100}]},
    "mark":{"type":"text","fontSize":3.2,"fill":"#7d8296"},
    "encoding":{"x":{"datum":48.16,"type":"quantitative","scale":{"domain":[-0.28,50.12],"nice":false,"zero":false},"axis":null},
     "y":{"field":"v","type":"quantitative","scale":{"domain":[-41.4,137.9],"nice":false,"zero":false},"axis":null},
     "text":{"field":"v","type":"quantitative","format":".2f"}}},
   {"data":{"name":"sub"},"transform":[{"filter":"indexof(['r6','r12','r24'], datum.s) >= 0"}],
    "mark":{"type":"line","interpolate":"monotone","strokeWidth":0.7},
    "encoding":{"x":{"field":"i","type":"quantitative","scale":{"domain":[-0.28,50.12],"nice":false,"zero":false},"axis":null},
     "y":{"field":"v","type":"quantitative","scale":{"domain":[-41.4,137.9],"nice":false,"zero":false},"axis":null},
     "stroke":{"field":"s","type":"nominal","scale":{"domain":["A","B","C","D","E","F","G","k2","d2","j2","r6","r12","r24","e5","e10","e20","w1","w2","dif","dea"],"range":["#9f9a3e","#c9bf45","#dcdce8","#a9a6c8","#b43cb8","#8d3494","#5f6477","#d4d6e4","#c9bf45","#b43cb8","#d4d6e4","#c9bf45","#b43cb8","#c5c7d6","#c9bf45","#b43cb8","#a9a6c8","#9f9a3e","#d4d6e4","#c9bf45"]},"legend":null}}},
   {"data":{"name":"hdr"},"transform":[{"filter":"datum.pn==3"}],"mark":{"type":"text"},
    "encoding":{"x":{"field":"i","type":"quantitative","scale":{"domain":[-0.28,50.12],"nice":false,"zero":false},"axis":null},
     "y":{"datum":110.3,"type":"quantitative","scale":{"domain":[-41.4,137.9],"nice":false,"zero":false},"axis":null},"text":{"field":"t"},
     "fill":{"field":"k","type":"nominal","scale":{"domain":["lab","s1","s2","s3","down","sel","up"],"range":["#8a8fa3","#d4d6e2","#c9bf45","#c040c0","#e5484d","#3d84f0","#1dc98e"]},"legend":null}}},
   {"data":{"name":"tools"},"mark":{"type":"text"},
    "encoding":{"x":{"field":"i","type":"quantitative","scale":{"domain":[-0.28,50.12],"nice":false,"zero":false},"axis":null},
     "y":{"datum":-27.6,"type":"quantitative","scale":{"domain":[-41.4,137.9],"nice":false,"zero":false},"axis":null},"text":{"field":"t"},
     "fill":{"condition":{"test":"datum.t==='RSI'","value":"#3d84f0"},"value":"#6d7285"}}}
  ]},
 {"width":360,"height":27,
  "layer":[
   {"data":{"values":[{}]},"mark":{"type":"rule","color":"#2b3043","strokeWidth":0.8},
    "encoding":{"x":{"datum":47.6,"type":"quantitative","scale":{"domain":[-0.28,50.12],"nice":false,"zero":false},"axis":null},
     "y":{"datum":218,"type":"quantitative","scale":{"domain":[191,218],"nice":false,"zero":false},"axis":null},"y2":{"datum":191}}},
   {"data":{"values":[{"v":200}]},
    "mark":{"type":"text","fontSize":3.2,"fill":"#7d8296"},
    "encoding":{"x":{"datum":48.16,"type":"quantitative","scale":{"domain":[-0.28,50.12],"nice":false,"zero":false},"axis":null},
     "y":{"field":"v","type":"quantitative","scale":{"domain":[191,218],"nice":false,"zero":false},"axis":null},
     "text":{"field":"v","type":"quantitative","format":".2f"}}},
   {"data":{"name":"sub"},"transform":[{"filter":"indexof(['e5','e10','e20'], datum.s) >= 0"}],
    "mark":{"type":"line","interpolate":"monotone","strokeWidth":0.7},
    "encoding":{"x":{"field":"i","type":"quantitative","scale":{"domain":[-0.28,50.12],"nice":false,"zero":false},"axis":null},
     "y":{"field":"v","type":"quantitative","scale":{"domain":[191,218],"nice":false,"zero":false},"axis":null},
     "stroke":{"field":"s","type":"nominal","scale":{"domain":["A","B","C","D","E","F","G","k2","d2","j2","r6","r12","r24","e5","e10","e20","w1","w2","dif","dea"],"range":["#9f9a3e","#c9bf45","#dcdce8","#a9a6c8","#b43cb8","#8d3494","#5f6477","#d4d6e4","#c9bf45","#b43cb8","#d4d6e4","#c9bf45","#b43cb8","#c5c7d6","#c9bf45","#b43cb8","#a9a6c8","#9f9a3e","#d4d6e4","#c9bf45"]},"legend":null}}},
   {"data":{"name":"hdr"},"transform":[{"filter":"datum.pn==4"}],"mark":{"type":"text"},
    "encoding":{"x":{"field":"i","type":"quantitative","scale":{"domain":[-0.28,50.12],"nice":false,"zero":false},"axis":null},
     "y":{"datum":216.5,"type":"quantitative","scale":{"domain":[191,218],"nice":false,"zero":false},"axis":null},"text":{"field":"t"},
     "fill":{"field":"k","type":"nominal","scale":{"domain":["lab","s1","s2","s3","down","sel","up"],"range":["#8a8fa3","#d4d6e2","#c9bf45","#c040c0","#e5484d","#3d84f0","#1dc98e"]},"legend":null}}},
   {"data":{"name":"tools"},"mark":{"type":"text"},
    "encoding":{"x":{"field":"i","type":"quantitative","scale":{"domain":[-0.28,50.12],"nice":false,"zero":false},"axis":null},
     "y":{"datum":193,"type":"quantitative","scale":{"domain":[191,218],"nice":false,"zero":false},"axis":null},"text":{"field":"t"},
     "fill":{"condition":{"test":"datum.t==='EMA'","value":"#3d84f0"},"value":"#6d7285"}}}
  ]},
 {"width":360,"height":24,
  "layer":[
   {"data":{"values":[{"a":20,"b":80}]},
    "mark":{"type":"rect","fill":"#45195a"},
    "encoding":{"x":{"datum":-0.28,"type":"quantitative","scale":{"domain":[-0.28,50.12],"nice":false,"zero":false},"axis":null},"x2":{"datum":47.6},
     "y":{"field":"a","type":"quantitative","scale":{"domain":[-40,120],"nice":false,"zero":false},"axis":null},"y2":{"field":"b"}}},
   {"data":{"values":[{}]},"mark":{"type":"rule","color":"#2b3043","strokeWidth":0.8},
    "encoding":{"x":{"datum":47.6,"type":"quantitative","scale":{"domain":[-0.28,50.12],"nice":false,"zero":false},"axis":null},
     "y":{"datum":120,"type":"quantitative","scale":{"domain":[-40,120],"nice":false,"zero":false},"axis":null},"y2":{"datum":-40}}},
   {"data":{"values":[{"v":0},{"v":20},{"v":80},{"v":100}]},
    "mark":{"type":"text","fontSize":3.2,"fill":"#7d8296"},
    "encoding":{"x":{"datum":48.16,"type":"quantitative","scale":{"domain":[-0.28,50.12],"nice":false,"zero":false},"axis":null},
     "y":{"field":"v","type":"quantitative","scale":{"domain":[-40,120],"nice":false,"zero":false},"axis":null},
     "text":{"field":"v","type":"quantitative","format":".2f"}}},
   {"data":{"name":"sub"},"transform":[{"filter":"indexof(['w1','w2'], datum.s) >= 0"}],
    "mark":{"type":"line","interpolate":"monotone","strokeWidth":0.7},
    "encoding":{"x":{"field":"i","type":"quantitative","scale":{"domain":[-0.28,50.12],"nice":false,"zero":false},"axis":null},
     "y":{"field":"v","type":"quantitative","scale":{"domain":[-40,120],"nice":false,"zero":false},"axis":null},
     "stroke":{"field":"s","type":"nominal","scale":{"domain":["A","B","C","D","E","F","G","k2","d2","j2","r6","r12","r24","e5","e10","e20","w1","w2","dif","dea"],"range":["#9f9a3e","#c9bf45","#dcdce8","#a9a6c8","#b43cb8","#8d3494","#5f6477","#d4d6e4","#c9bf45","#b43cb8","#d4d6e4","#c9bf45","#b43cb8","#c5c7d6","#c9bf45","#b43cb8","#a9a6c8","#9f9a3e","#d4d6e4","#c9bf45"]},"legend":null}}},
   {"data":{"values":[{"i":25.9,"i2":30.1,"v":31.3,"v2":-8.7}]},
    "mark":{"type":"rect","fill":null,"stroke":"#d42020","strokeWidth":0.8},
    "encoding":{"x":{"field":"i","type":"quantitative","scale":{"domain":[-0.28,50.12],"nice":false,"zero":false},"axis":null},"x2":{"field":"i2"},
     "y":{"field":"v","type":"quantitative","scale":{"domain":[-40,120],"nice":false,"zero":false},"axis":null},"y2":{"field":"v2"}}},
   {"data":{"name":"hdr"},"transform":[{"filter":"datum.pn==5"}],"mark":{"type":"text"},
    "encoding":{"x":{"field":"i","type":"quantitative","scale":{"domain":[-0.28,50.12],"nice":false,"zero":false},"axis":null},
     "y":{"datum":102,"type":"quantitative","scale":{"domain":[-40,120],"nice":false,"zero":false},"axis":null},"text":{"field":"t"},
     "fill":{"field":"k","type":"nominal","scale":{"domain":["lab","s1","s2","s3","down","sel","up"],"range":["#8a8fa3","#d4d6e2","#c9bf45","#c040c0","#e5484d","#3d84f0","#1dc98e"]},"legend":null}}},
   {"data":{"name":"tools"},"mark":{"type":"text"},
    "encoding":{"x":{"field":"i","type":"quantitative","scale":{"domain":[-0.28,50.12],"nice":false,"zero":false},"axis":null},
     "y":{"datum":-20,"type":"quantitative","scale":{"domain":[-40,120],"nice":false,"zero":false},"axis":null},"text":{"field":"t"},
     "fill":{"condition":{"test":"datum.t==='WR'","value":"#3d84f0"},"value":"#6d7285"}}}
  ]},
 {"width":360,"height":32,
  "layer":[
   {"data":{"values":[{}]},"mark":{"type":"rule","color":"#2b3043","strokeWidth":0.8},
    "encoding":{"x":{"datum":47.6,"type":"quantitative","scale":{"domain":[-0.28,50.12],"nice":false,"zero":false},"axis":null},
     "y":{"datum":4.4,"type":"quantitative","scale":{"domain":[-8.4,4.4],"nice":false,"zero":false},"axis":null},"y2":{"datum":-5.0}}},
   {"data":{"values":[{"v":0}]},
    "mark":{"type":"text","fontSize":3.2,"fill":"#7d8296","dy":1},
    "encoding":{"x":{"datum":48.16,"type":"quantitative","scale":{"domain":[-0.28,50.12],"nice":false,"zero":false},"axis":null},
     "y":{"field":"v","type":"quantitative","scale":{"domain":[-8.4,4.4],"nice":false,"zero":false},"axis":null},
     "text":{"field":"v","type":"quantitative","format":".2f"}}},
   {"data":{"name":"hist"},"mark":{"type":"bar","size":4.2,"strokeWidth":0.6},
    "encoding":{"x":{"field":"i","type":"quantitative","scale":{"domain":[-0.28,50.12],"nice":false,"zero":false},"axis":null},
     "y":{"field":"v","type":"quantitative","scale":{"domain":[-8.4,4.4],"nice":false,"zero":false},"axis":null},
     "y2":{"datum":0},
     "fill":{"condition":[{"test":"datum.h==1","value":"transparent"},{"test":"datum.v>=0","value":"#1dc98e"}],"value":"#f0656b"},
     "stroke":{"condition":{"test":"datum.v>=0","value":"#1dc98e"},"value":"#f0656b"}}},
   {"data":{"name":"sub"},"transform":[{"filter":"indexof(['dif','dea'], datum.s) >= 0"}],
    "mark":{"type":"line","interpolate":"monotone","strokeWidth":0.6},
    "encoding":{"x":{"field":"i","type":"quantitative","scale":{"domain":[-0.28,50.12],"nice":false,"zero":false},"axis":null},
     "y":{"field":"v","type":"quantitative","scale":{"domain":[-8.4,4.4],"nice":false,"zero":false},"axis":null},
     "stroke":{"field":"s","type":"nominal","scale":{"domain":["A","B","C","D","E","F","G","k2","d2","j2","r6","r12","r24","e5","e10","e20","w1","w2","dif","dea"],"range":["#9f9a3e","#c9bf45","#dcdce8","#a9a6c8","#b43cb8","#8d3494","#5f6477","#d4d6e4","#c9bf45","#b43cb8","#d4d6e4","#c9bf45","#b43cb8","#c5c7d6","#c9bf45","#b43cb8","#a9a6c8","#9f9a3e","#d4d6e4","#c9bf45"]},"legend":null}}},
   {"data":{"values":[{"i":23.76,"i2":29.44,"v":3.2,"v2":-3.1}]},
    "mark":{"type":"rect","fill":null,"stroke":"#d42020","strokeWidth":0.8},
    "encoding":{"x":{"field":"i","type":"quantitative","scale":{"domain":[-0.28,50.12],"nice":false,"zero":false},"axis":null},"x2":{"field":"i2"},
     "y":{"field":"v","type":"quantitative","scale":{"domain":[-8.4,4.4],"nice":false,"zero":false},"axis":null},"y2":{"field":"v2"}}},
   {"data":{"name":"hdr"},"transform":[{"filter":"datum.pn==6"}],"mark":{"type":"text"},
    "encoding":{"x":{"field":"i","type":"quantitative","scale":{"domain":[-0.28,50.12],"nice":false,"zero":false},"axis":null},
     "y":{"datum":3.4,"type":"quantitative","scale":{"domain":[-8.4,4.4],"nice":false,"zero":false},"axis":null},"text":{"field":"t"},
     "fill":{"field":"k","type":"nominal","scale":{"domain":["lab","s1","s2","s3","down","sel","up"],"range":["#8a8fa3","#d4d6e2","#c9bf45","#c040c0","#e5484d","#3d84f0","#1dc98e"]},"legend":null}}},
   {"data":{"name":"tools"},"mark":{"type":"text"},
    "encoding":{"x":{"field":"i","type":"quantitative","scale":{"domain":[-0.28,50.12],"nice":false,"zero":false},"axis":null},
     "y":{"datum":-3.6,"type":"quantitative","scale":{"domain":[-8.4,4.4],"nice":false,"zero":false},"axis":null},"text":{"field":"t"},
     "fill":{"condition":{"test":"datum.t==='MACD'","value":"#3d84f0"},"value":"#6d7285"}}},
   {"data":{"name":"dates"},"mark":{"type":"text","align":"center","fontSize":3.2,"fill":"#7d8296"},
    "encoding":{"x":{"field":"i","type":"quantitative","scale":{"domain":[-0.28,50.12],"nice":false,"zero":false},"axis":null},
     "y":{"datum":-6.4,"type":"quantitative","scale":{"domain":[-8.4,4.4],"nice":false,"zero":false},"axis":null},"text":{"field":"t"}}},
   {"data":{"values":[{"i":46.97,"t":"⇄","k":"sel"},{"i":48.0,"t":"%","k":"lab"},{"i":49.2,"t":"自动","k":"sel"}]},
    "mark":{"type":"text","align":"center","fontSize":3.2},
    "encoding":{"x":{"field":"i","type":"quantitative","scale":{"domain":[-0.28,50.12],"nice":false,"zero":false},"axis":null},
     "y":{"datum":-6.4,"type":"quantitative","scale":{"domain":[-8.4,4.4],"nice":false,"zero":false},"axis":null},"text":{"field":"t"},
     "fill":{"field":"k","type":"nominal","scale":{"domain":["lab","s1","s2","s3","down","sel","up"],"range":["#8a8fa3","#d4d6e2","#c9bf45","#c040c0","#e5484d","#3d84f0","#1dc98e"]},"legend":null}}}
  ]}
]
}
